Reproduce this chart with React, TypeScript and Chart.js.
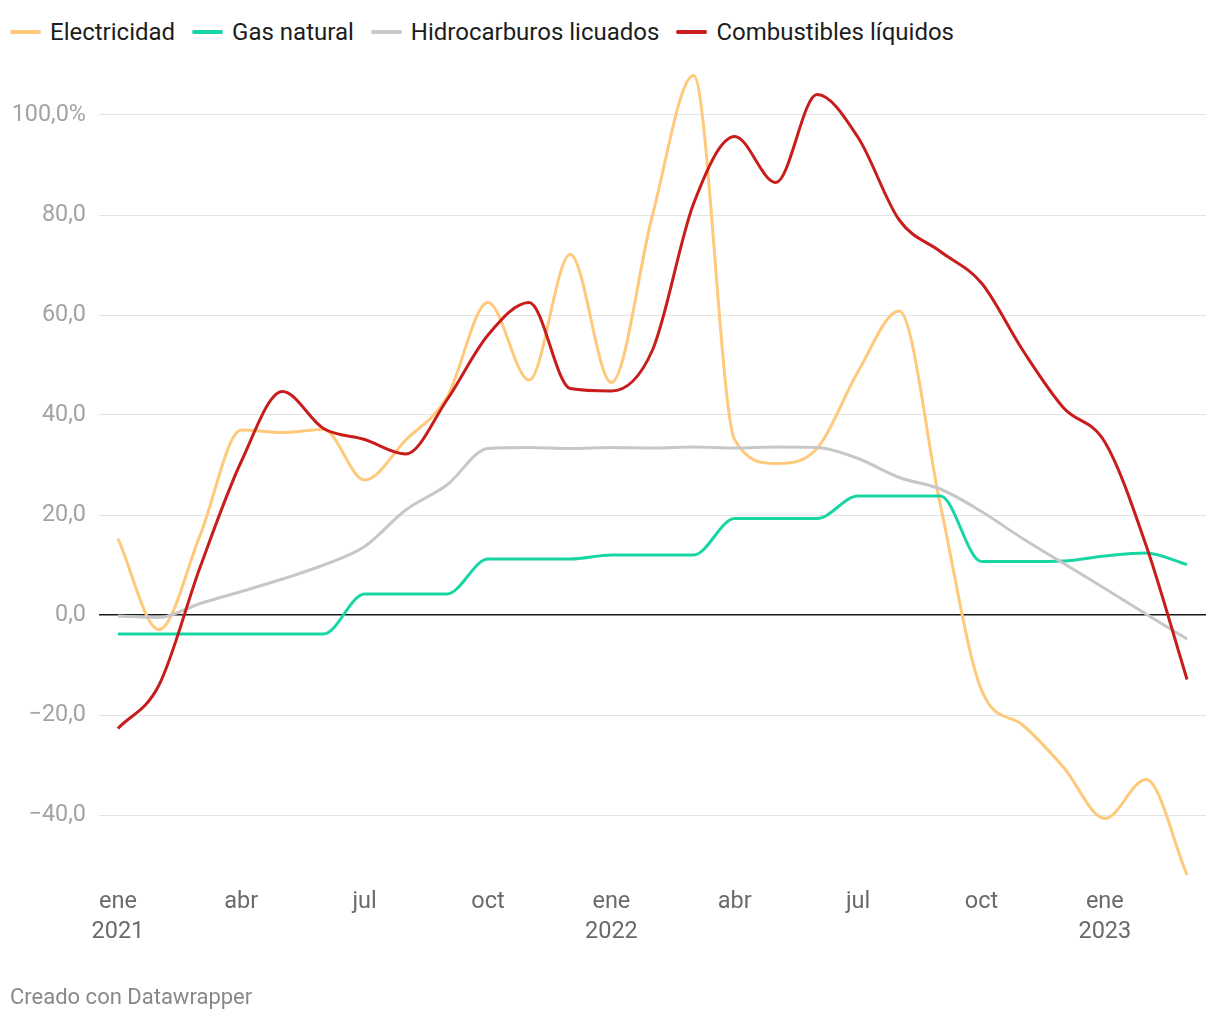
import React, { useEffect, useRef } from "react";
import { Chart, registerables } from "chart.js";

Chart.register(...registerables);

const months = [
  "ene 2021", "feb", "mar", "abr", "may", "jun", "jul", "ago", "sep", "oct", "nov", "dic",
  "ene 2022", "feb", "mar", "abr", "may", "jun", "jul", "ago", "sep", "oct", "nov", "dic",
  "ene 2023", "feb", "mar",
];

const electricidad = [
  15.3, -2.9, 16, 37, 36.5, 37.1, 27, 35, 43.5, 62.5, 47, 72.1, 46.5, 80, 107.9,
  35, 30.3, 33.3, 48.7, 60.8, 22, -15, -22, -30.5, -40.7, -32.9, -52,
];
const gasNatural = [
  -3.8, -3.8, -3.8, -3.8, -3.8, -3.8, 4.2, 4.2, 4.2, 11.2, 11.2, 11.2, 12, 12, 12,
  19.3, 19.3, 19.3, 23.8, 23.8, 23.8, 10.7, 10.7, 10.8, 11.8, 12.4, 10.1,
];
const hidrocarburos = [
  -0.2, -0.5, 2.3, 4.7, 7.2, 10, 13.7, 21, 26, 33.3, 33.5, 33.3, 33.5, 33.4, 33.6,
  33.4, 33.6, 33.5, 31.3, 27.5, 25.2, 20.7, 15.3, 10.3, 5.3, 0.2, -4.8,
];
const combustibles = [
  -22.7, -14, 9.6, 30.7, 44.7, 37.3, 35.1, 32.2, 43, 56, 62.5, 45.3, 44.8, 53, 82.3,
  95.7, 86.5, 104.1, 95.5, 79, 72.7, 66.4, 53, 41.4, 34.6, 14, -12.9,
];

const xTickIndexes = [0, 3, 6, 9, 12, 15, 18, 21, 24];
const xTickLabels: (string | string[])[] = [
  ["ene", "2021"], "abr", "jul", "oct", ["ene", "2022"], "abr", "jul", "oct", ["ene", "2023"],
];
const yTicks = [-40, -20, 0, 20, 40, 60, 80, 100];

const seriesNames = ["Electricidad", "Gas natural", "Hidrocarburos licuados", "Combustibles líquidos"];
const seriesColors = ["#fec97a", "#18d6a4", "#c7c7c7", "#c71e1d"];

const FONT = "Roboto, 'Noto Sans', sans-serif";

export default function App() {
  const canvasRef = useRef<HTMLCanvasElement | null>(null);

  useEffect(() => {
    const canvas = canvasRef.current;
    if (!canvas) return;
    const seriesData = [electricidad, gasNatural, hidrocarburos, combustibles];
    const chart = new Chart(canvas, {
      type: "line",
      data: {
        datasets: seriesData.map((vals, si) => ({
          label: seriesNames[si],
          data: vals.map((v, i) => ({ x: i, y: v })),
          borderColor: seriesColors[si],
          backgroundColor: seriesColors[si],
          borderWidth: 3,
          pointRadius: 0,
          cubicInterpolationMode: "monotone" as const,
          fill: false,
          order: 4 - si,
        })),
      },
      options: {
        animation: false,
        responsive: false,
        maintainAspectRatio: false,
        layout: { padding: { top: 65, right: 14, bottom: 60, left: 0 } },
        plugins: {
          legend: { display: false },
          tooltip: { enabled: false },
        },
        scales: {
          x: {
            type: "linear",
            min: -0.46,
            max: 26.46,
            afterBuildTicks: (scale: any) => {
              scale.ticks = xTickIndexes.map((v) => ({ value: v }));
            },
            afterFit: (scale: any) => {
              scale.height = 80;
            },
            grid: { display: false, drawTicks: false },
            border: { display: false },
            ticks: {
              autoSkip: false,
              maxRotation: 0,
              padding: 7,
              color: "#6a6a6a",
              font: { family: FONT, size: 23.5, lineHeight: 1.28 },
              callback: (value: any) => {
                const idx = xTickIndexes.indexOf(Number(value));
                return idx >= 0 ? xTickLabels[idx] : "";
              },
            },
          },
          y: {
            type: "linear",
            min: -53,
            max: 110,
            afterBuildTicks: (scale: any) => {
              scale.ticks = yTicks.map((v) => ({ value: v }));
            },
            afterFit: (scale: any) => {
              scale.width = 99;
            },
            border: { display: false },
            grid: {
              drawTicks: false,
              color: (ctx: any) => (ctx.tick && ctx.tick.value === 0 ? "#1a1a1a" : "#e3e3e3"),
              lineWidth: (ctx: any) => (ctx.tick && ctx.tick.value === 0 ? 1.5 : 1),
            },
            ticks: {
              padding: 13,
              color: "#a3a3a3",
              font: { family: FONT, size: 23.4 },
              callback: (value: any) => {
                const s = Math.abs(Number(value)).toFixed(1).replace(".", ",");
                const sign = Number(value) < 0 ? "\u2212" : "";
                return Number(value) === 100 ? sign + s + "%" : sign + s;
              },
            },
          },
        },
      },
    });
    return () => chart.destroy();
  }, []);

  return (
    <div style={{ position: "fixed", left: 0, top: 0, width: 1220, height: 1020, background: "#fff", fontFamily: FONT }}>
      <div style={{ position: "absolute", left: 10, top: 16, display: "flex", alignItems: "center", height: 32 }}>
        {seriesNames.map((name, i) => (
          <div key={name} style={{ display: "flex", alignItems: "center", marginRight: i < 3 ? 17 : 0 }}>
            <span style={{ display: "inline-block", width: 31, height: 4, borderRadius: 2, background: seriesColors[i], marginRight: 9 }} />
            <span style={{ fontSize: 24, color: "#1d1d1d", whiteSpace: "nowrap" }}>{name}</span>
          </div>
        ))}
      </div>
      <canvas ref={canvasRef} width={1220} height={1020} style={{ position: "absolute", left: 0, top: 0, width: 1220, height: 1020 }} />
      <div style={{ position: "absolute", left: 10, top: 984, fontSize: 22, color: "#888", whiteSpace: "nowrap" }}>
        Creado con Datawrapper
      </div>
    </div>
  );
}
